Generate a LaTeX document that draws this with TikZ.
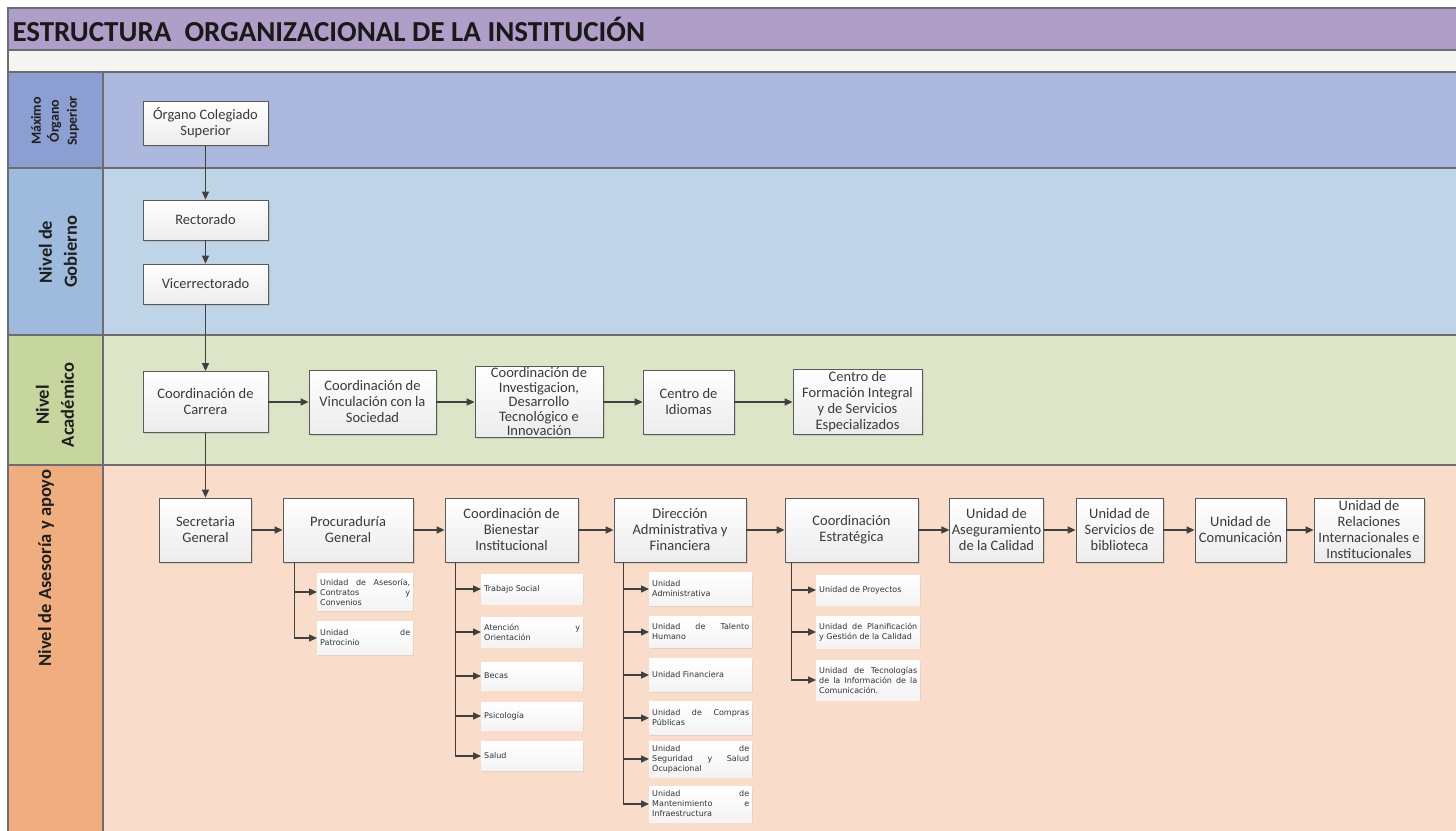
\documentclass[tikz,border=0pt]{standalone}
\usepackage{fontspec}
\setmainfont{Carlito}
\newfontfamily\subfont{DejaVu Sans}
\usepackage{xcolor}
\usepackage{tikz}
\usetikzlibrary{arrows.meta,positioning,shadows}
\definecolor{titlebg}{HTML}{AE9EC8}
\definecolor{stripbg}{HTML}{F5F5F2}
\definecolor{headA}{HTML}{8C9FD2}
\definecolor{bodyA}{HTML}{ACB8DD}
\definecolor{headB}{HTML}{9EBADC}
\definecolor{bodyB}{HTML}{C0D4E8}
\definecolor{headC}{HTML}{C7D59F}
\definecolor{bodyC}{HTML}{DDE5C8}
\definecolor{headD}{HTML}{F0AE80}
\definecolor{bodyD}{HTML}{F9DDCA}
\definecolor{edgegray}{HTML}{6C6C72}
\definecolor{boxline}{HTML}{5A5A5A}
\definecolor{arrowgray}{HTML}{404040}
\definecolor{txtgray}{HTML}{3A3A3A}
\tikzset{
  lane/.style={draw=edgegray, line width=1.5pt},
  lanelabel/.style={rotate=90, align=center, font=\bfseries\fontsize{18.5}{25}\selectfont, text=black!88},
  unit/.style={draw=boxline, line width=0.8pt, top color=white, bottom color=gray!15, drop shadow={opacity=0.25, shadow xshift=1.5pt, shadow yshift=-1.5pt}, align=center, inner sep=2pt, font=\fontsize{14.5}{16}\selectfont, text=txtgray},
  subunit/.style={top color=white, bottom color=gray!9, drop shadow={opacity=0.15, shadow xshift=1.2pt, shadow yshift=-1.2pt}, align=justify, inner sep=3pt, anchor=west, font=\subfont\fontsize{8}{10}\selectfont, text=black!80},
  link/.style={-{Triangle[length=8pt,width=7pt]}, line width=1.4pt, draw=arrowgray}
}

\begin{document}
\begin{tikzpicture}[x=1pt,y=-1pt]
  \useasboundingbox (0,0) rectangle (1456,830);
  \fill[white] (0,0) rectangle (1456,830);

  % bands
  \fill[titlebg, lane] (8,8) rectangle (1462,50);
  \fill[stripbg, lane] (8,50) rectangle (1462,72);
  \fill[headA, lane] (8,72) rectangle (103,168);
  \fill[bodyA, lane] (103,72) rectangle (1462,168);
  \fill[headB, lane] (8,168) rectangle (103,335);
  \fill[bodyB, lane] (103,168) rectangle (1462,335);
  \fill[headC, lane] (8,335) rectangle (103,465);
  \fill[bodyC, lane] (103,335) rectangle (1462,465);
  \fill[headD, lane] (8,465) rectangle (103,840);
  \fill[bodyD, lane] (103,465) rectangle (1462,840);

  \node[anchor=west, font=\bfseries\fontsize{29}{32}\selectfont, text=black!90] (title) at (9,29) {ESTRUCTURA\ \ ORGANIZACIONAL DE LA INSTITUCIÓN};

  \node[lanelabel, font=\bfseries\fontsize{14}{18}\selectfont] (hA) at (55,121) {Máximo\\Órgano\\Superior};
  \node[lanelabel] (hB) at (58,252) {Nivel de\\Gobierno};
  \node[lanelabel] (hC) at (55,405) {Nivel\\Académico};
  \node[lanelabel] (hD) at (46,568) {Nivel de Asesoría y apoyo};

  % gobierno
  \node[unit, minimum width=125, minimum height=44] (organo) at (205.5,123) {Órgano Colegiado\\Superior};
  \node[unit, minimum width=125, minimum height=40] (rect) at (205.5,220) {Rectorado};
  \node[unit, minimum width=125, minimum height=40] (vice) at (205.5,284) {Vicerrectorado};

  \draw[link] (organo) -- (rect);
  \draw[link] (rect) -- (vice);

  % academico
  \node[unit, minimum width=125, minimum height=61] (carrera) at (205.5,402) {Coordinación de\\Carrera};
  \node[unit, minimum width=127, minimum height=64] (vinc) at (372.5,402) {Coordinación de\\Vinculación con la\\Sociedad};
  \node[unit, minimum width=128, minimum height=71, inner sep=0pt, font=\fontsize{14.5}{14.5}\selectfont] (inv) at (539,402) {Coordinación de\\Investigacion,\\Desarrollo\\Tecnológico e\\Innovación};
  \node[unit, minimum width=91, minimum height=64] (idiomas) at (688.5,402) {Centro de\\Idiomas};
  \node[unit, minimum width=129, minimum height=65] (cfi) at (857.5,402) {Centro de\\Formación Integral\\y de Servicios\\Especializados};

  \draw[link] (vice) -- (carrera);
  \draw[link] (carrera) -- (vinc);
  \draw[link] (vinc) -- (inv);
  \draw[link] (inv) -- (idiomas);
  \draw[link] (idiomas) -- (cfi);

  % asesoria y apoyo
  \node[unit, minimum width=92, minimum height=64] (sec) at (205.5,530) {Secretaria\\General};
  \node[unit, minimum width=130, minimum height=64] (proc) at (348,530) {Procuraduría\\General};
  \node[unit, minimum width=133, minimum height=64] (bien) at (511.5,530) {Coordinación de\\Bienestar\\Institucional};
  \node[unit, minimum width=132, minimum height=64] (dir) at (680,530) {Dirección\\Administrativa y\\Financiera};
  \node[unit, minimum width=133, minimum height=64] (estr) at (851.5,530) {Coordinación\\Estratégica};
  \node[unit, minimum width=93, minimum height=64] (aseg) at (996.5,530) {Unidad de\\Aseguramiento\\de la Calidad};
  \node[unit, minimum width=87, minimum height=64] (bib) at (1119.5,530) {Unidad de\\Servicios de\\biblioteca};
  \node[unit, minimum width=91, minimum height=64] (com) at (1240.5,530) {Unidad de\\Comunicación};
  \node[unit, minimum width=110, minimum height=64, inner sep=0pt] (rel) at (1369,530) {Unidad de\\Relaciones\\Internacionales e\\Institucionales};

  \draw[link] (carrera) -- (sec);
  \draw[link] (sec) -- (proc);
  \draw[link] (proc) -- (bien);
  \draw[link] (bien) -- (dir);
  \draw[link] (dir) -- (estr);
  \draw[link] (estr) -- (aseg);
  \draw[link] (aseg) -- (bib);
  \draw[link] (bib) -- (com);
  \draw[link] (com) -- (rel);

  % procuraduria
  \node[subunit, minimum width=96, text width=90, minimum height=37] (pa) at (317,592) {Unidad de Asesoría,\linebreak Contratos y\linebreak Convenios};
  \node[subunit, minimum width=96, text width=90, minimum height=33] (pb) at (317,638) {Unidad de\linebreak Patrocinio};
  \draw[link] ([xshift=12pt]proc.south west) |- (pa.west);
  \draw[link] ([xshift=12pt]proc.south west) |- (pb.west);

  % bienestar
  \node[subunit, minimum width=102, text width=96, minimum height=30] (bs1) at (481,589) {Trabajo Social};
  \node[subunit, minimum width=102, text width=96, minimum height=30] (bs2) at (481,632) {Atención y\linebreak Orientación};
  \node[subunit, minimum width=102, text width=96, minimum height=28] (bs3) at (481,676) {Becas};
  \node[subunit, minimum width=102, text width=96, minimum height=28] (bs4) at (481,716) {Psicología};
  \node[subunit, minimum width=102, text width=96, minimum height=29] (bs5) at (481,756) {Salud};
  \foreach \s in {bs1,bs2,bs3,bs4,bs5}
    \draw[link] ([xshift=11pt]bien.south west) |- (\s.west);

  % direccion
  \node[subunit, minimum width=103, text width=97, minimum height=33] (ds1) at (649,589) {Unidad\\Administrativa};
  \node[subunit, minimum width=103, text width=97, minimum height=31] (ds2) at (649,632) {Unidad de Talento\linebreak Humano};
  \node[subunit, minimum width=103, text width=97, minimum height=33] (ds3) at (649,675) {Unidad Financiera};
  \node[subunit, minimum width=103, text width=97, minimum height=33] (ds4) at (649,718) {Unidad de Compras\linebreak Públicas};
  \node[subunit, minimum width=103, text width=97, minimum height=36] (ds5) at (649,759) {Unidad de\linebreak Seguridad y Salud\linebreak Ocupacional};
  \node[subunit, minimum width=103, text width=97, minimum height=36] (ds6) at (649,804) {Unidad de\linebreak Mantenimiento e\linebreak Infraestructura};
  \foreach \s in {ds1,ds2,ds3,ds4,ds5,ds6}
    \draw[link] ([xshift=10pt]dir.south west) |- (\s.west);

  % estrategica
  \node[subunit, minimum width=104, text width=98, minimum height=30] (es1) at (816,590) {Unidad de Proyectos};
  \node[subunit, minimum width=104, text width=98, minimum height=32] (es2) at (816,632) {Unidad de Planificación\linebreak y Gestión de la Calidad};
  \node[subunit, minimum width=104, text width=98, minimum height=40] (es3) at (816,680) {Unidad de Tecnologías\linebreak de la Información de la\linebreak Comunicación.};
  \foreach \s in {es1,es2,es3}
    \draw[link] ([xshift=7pt]estr.south west) |- (\s.west);
\end{tikzpicture}
\end{document}
